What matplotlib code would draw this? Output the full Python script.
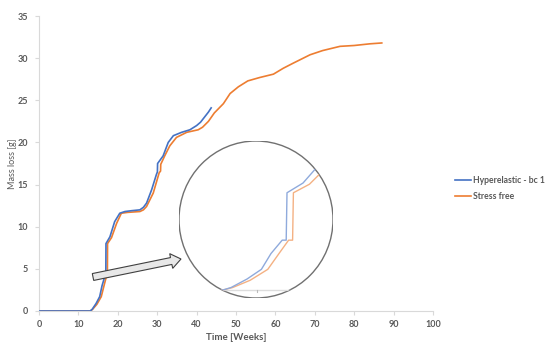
import matplotlib
matplotlib.use("Agg")
import matplotlib.pyplot as plt
from matplotlib.patches import Circle, FancyArrow

plt.rcParams['font.family'] = ['Lato', 'DejaVu Sans']

# Hyperelastic - bc 1
x_h = [0, 13, 13.5, 14.5, 15.4, 16.0, 16.7, 16.95, 17.0, 18.0, 19.2, 20.5, 21.8, 23.5, 25.6,
       26.5, 27.3, 28.6, 29.8, 30.05, 30.1, 31.5, 32.8, 34.1, 36.2, 38.3, 40.0, 41.0, 42.0, 43.0, 43.7]
y_h = [0, 0, 0.2, 0.9, 1.7, 3.0, 4.1, 4.1, 8.0, 8.8, 10.6, 11.6, 11.8, 11.9, 12.0,
       12.3, 12.8, 14.4, 16.2, 16.5, 17.5, 18.4, 20.0, 20.8, 21.2, 21.5, 22.0, 22.4, 23.0, 23.6, 24.1]

# Stress free
x_s = [0, 13, 13.6, 14.7, 15.8, 16.5, 17.1, 17.35, 17.4, 18.4, 19.7, 20.9, 22.5, 25.6,
       26.5, 27.3, 29.0, 30.5, 30.85, 30.9, 31.9, 33.2, 34.9, 37.5, 40.4, 41.5, 43.0,
       44.5, 46.8, 48.5, 50.6, 53.0, 56.0, 59.5, 62.0, 64.5, 68.8, 72.0, 76.4, 80.0, 84.0, 87.0]
y_s = [0, 0, 0.2, 0.8, 1.7, 3.0, 4.1, 4.1, 8.0, 8.7, 10.4, 11.6, 11.7, 11.8,
       12.0, 12.4, 14.0, 16.4, 16.6, 17.4, 18.4, 19.6, 20.6, 21.2, 21.5, 21.8, 22.5,
       23.5, 24.6, 25.8, 26.6, 27.3, 27.7, 28.1, 28.8, 29.4, 30.4, 30.9, 31.4, 31.5, 31.7, 31.8]

x_ticks = list(range(0, 101, 10))
y_ticks = list(range(0, 36, 5))

blue = '#4472C4'
orange = '#ED7D31'
txt = '#595959'
axc = '#D9D9D9'

fig = plt.figure(figsize=(5.5, 3.5), dpi=100)
W, H = 550, 350
ax = fig.add_axes([39 / W, 1 - 311 / H, (433 - 39) / W, (311 - 16) / H])
ax.plot(x_h, y_h, color=blue, lw=1.2, label='Hyperelastic - bc 1', zorder=3)
ax.plot(x_s, y_s, color=orange, lw=1.2, label='Stress free', zorder=2)
ax.set_xlim(0, 100)
ax.set_ylim(0, 35)
ax.set_xticks(x_ticks)
ax.set_yticks(y_ticks)
for s in ['top', 'right']:
    ax.spines[s].set_visible(False)
for s in ['left', 'bottom']:
    ax.spines[s].set_color(axc)
    ax.spines[s].set_linewidth(0.8)
ax.tick_params(axis='both', colors=axc, labelcolor=txt, labelsize=6.5, length=3, width=0.8)
ax.tick_params(axis='y', pad=5)
for lab in ax.get_xticklabels() + ax.get_yticklabels():
    lab.set_fontweight('bold')
ax.set_xlabel('Time [Weeks]', fontsize=7, color=txt, fontweight='bold', labelpad=3)
ax.set_ylabel('Mass loss [g]', fontsize=6.5, color=txt)
ax.yaxis.set_label_coords(-(39 - 17) / 394, 0.5)

leg = fig.legend(loc='upper left', bbox_to_anchor=(447 / W, 1 - 168 / H), frameon=False,
                 fontsize=6.2, handlelength=1.9, handletextpad=0.2, labelspacing=0.9)
for t in leg.get_texts():
    t.set_color(txt)
    t.set_fontweight('bold')

# Inset zoom (circle)
cx0, cx1, cy0, cy1 = 179, 333, 141, 298
axi = fig.add_axes([cx0 / W, 1 - cy1 / H, (cx1 - cx0) / W, (cy1 - cy0) / H])
axi.set_xlim(10.25, 19.875)
axi.set_ylim(-0.66, 12.26)
axi.axis('off')
circ = Circle((0.5, 0.5), 0.5, transform=axi.transAxes, facecolor='white',
              edgecolor='#707070', lw=1.0, zorder=1)
axi.add_patch(circ)
clipc = Circle((0.5, 0.5), 0.5, transform=axi.transAxes, facecolor='none', edgecolor='none')
axi.add_patch(clipc)
l0, = axi.plot([5, 25], [0, 0], color='#DDDDDD', lw=1.0, zorder=2)
l1, = axi.plot(x_h, y_h, color='#8FAADC', lw=1.0, zorder=4)
l2, = axi.plot(x_s, y_s, color='#F4B183', lw=1.0, zorder=3)
for l in (l0, l1, l2):
    l.set_clip_path(clipc)
axi.plot([15.1, 15.1], [-0.15, 0.0], color='#BBBBBB', lw=0.8, zorder=2)

# Arrow
ax_fig = fig.add_axes([0, 0, 1, 1])
ax_fig.set_xlim(0, W)
ax_fig.set_ylim(H, 0)
ax_fig.axis('off')
arr = FancyArrow(93, 277, 88, -18, width=7, head_width=15, head_length=10,
                 length_includes_head=True, facecolor='#E8E8E8', edgecolor='#404040', lw=0.8)
ax_fig.add_patch(arr)

fig.savefig('out.png', dpi=100)
